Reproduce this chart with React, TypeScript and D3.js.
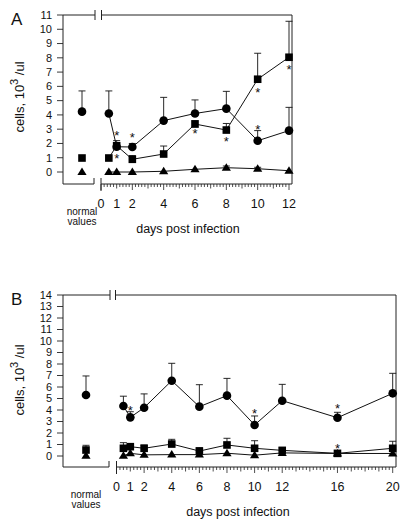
import React from "react";
import * as d3 from "d3";

// ---------- Panel A data ----------
const daysA = [0.5, 1, 2, 4, 6, 8, 10, 12];
const circleA = [4.1, 1.77, 1.75, 3.6, 4.1, 4.44, 2.19, 2.9];
const circleErrA = [5.68, 2.2, 2.0, 5.23, 5.05, 5.65, 2.9, 4.53];
const squareA = [0.98, 1.84, 0.89, 1.26, 3.36, 2.94, 6.5, 8.04];
const squareErrA = [0.98, 1.84, 1.15, 1.82, 3.6, 3.4, 8.32, 10.56];
const triangleA = [0.0, 0.0, 0.0, 0.05, 0.19, 0.3, 0.23, 0.09];
const triangleErrA = [0.0, 0.0, 0.0, 0.05, 0.19, 0.42, 0.33, 0.09];
const normalA = { circle: 4.23, circleErr: 5.68, square: 0.98, squareErr: 0.98, triangle: 0.0, triangleErr: 0.0 };
const starsA = [
  { day: 1, value: 2.8 },
  { day: 1, value: 1.17 },
  { day: 2, value: 2.61 },
  { day: 6, value: 2.94 },
  { day: 8, value: 2.36 },
  { day: 10, value: 5.8 },
  { day: 10, value: 3.22 },
  { day: 12, value: 7.38 },
];
const xTicksA = [0, 1, 2, 4, 6, 8, 10, 12];
const yTicksA = d3.range(0, 12);

// ---------- Panel B data ----------
const daysB = [0.5, 1, 2, 4, 6, 8, 10, 12, 16, 20];
const circleB = [4.35, 3.36, 4.2, 6.55, 4.29, 5.25, 2.7, 4.81, 3.33, 5.45];
const circleErrB = [5.2, 3.85, 5.4, 8.06, 6.2, 6.75, 3.48, 6.23, 3.8, 7.19];
const squareB = [0.67, 0.81, 0.67, 1.04, 0.43, 0.96, 0.67, 0.49, 0.23, 0.67];
const squareErrB = [1.16, 1.0, 0.95, 1.45, 0.72, 1.54, 1.33, 0.7, 0.23, 1.28];
const triangleB = [0.03, 0.23, 0.1, 0.12, 0.12, 0.24, 0.07, 0.27, 0.22, 0.22];
const triangleErrB = [0.03, 0.23, 0.1, 0.12, 0.12, 0.24, 0.07, 0.27, 0.22, 0.22];
const normalB = { circle: 5.3, circleErr: 6.96, square: 0.52, squareErr: 0.93, triangle: 0.03, triangleErr: 0.03 };
const starsB = [
  { day: 1, value: 4.23 },
  { day: 10, value: 4.0 },
  { day: 16, value: 4.35 },
  { day: 16, value: 0.87 },
];
const xTicksB = [0, 1, 2, 4, 6, 8, 10, 12, 16, 20];
const yTicksB = d3.range(0, 15);

const FONT = "'Liberation Sans', Arial, Helvetica, sans-serif";

type PanelProps = {
  letter: string;
  top: number;
  axisY: number;
  yMax: number;
  yZeroPx: number;
  xMax: number;
  x0: number;
  x1: number;
  right: number;
  normalX: number;
  breakX: [number, number];
  leftSegEnd: number;
  minorStep: number;
  xTicks: number[];
  yTicks: number[];
  days: number[];
  circle: number[];
  circleErr: number[];
  square: number[];
  squareErr: number[];
  triangle: number[];
  triangleErr: number[];
  normal: { circle: number; circleErr: number; square: number; squareErr: number; triangle: number; triangleErr: number };
  stars: { day: number; value: number }[];
  yLabelCenter: number;
  titleX: number;
  longTicks: number[];
};

const LEFT = 63;

function Marker({ kind, x, y }: { kind: string; x: number; y: number }) {
  if (kind === "circle") return <circle cx={x} cy={y} r={4.3} fill="#000" />;
  if (kind === "square") return <rect x={x - 3.8} y={y - 3.8} width={7.6} height={7.6} fill="#000" />;
  const h = 7.5;
  const w = 4.6;
  return <path d={`M${x},${y - h * 0.6} L${x + w},${y + h * 0.4} L${x - w},${y + h * 0.4} Z`} fill="#000" />;
}

function ErrBar({ x, y, yTop }: { x: number; y: number; yTop: number }) {
  if (y - yTop < 1) return null;
  return (
    <g stroke="#111" strokeWidth={0.9}>
      <line x1={x} x2={x} y1={y} y2={yTop} />
      <line x1={x - 3.5} x2={x + 3.5} y1={yTop} y2={yTop} />
    </g>
  );
}

function Panel(p: PanelProps) {
  const y = d3.scaleLinear().domain([0, p.yMax]).range([p.yZeroPx, p.top]);
  const x = d3.scaleLinear().domain([0, p.xMax]).range([p.x0, p.x1]);
  const line = d3
    .line<[number, number]>()
    .x((d) => x(d[0]))
    .y((d) => y(d[1]));

  const series = [
    { kind: "circle", v: p.circle, e: p.circleErr, nv: p.normal.circle, ne: p.normal.circleErr },
    { kind: "square", v: p.square, e: p.squareErr, nv: p.normal.square, ne: p.normal.squareErr },
    { kind: "triangle", v: p.triangle, e: p.triangleErr, nv: p.normal.triangle, ne: p.normal.triangleErr },
  ];

  const minor = d3.range(0, p.xMax + 1e-6, p.minorStep);
  const stroke = "#222";

  return (
    <g fontFamily={FONT}>
      <text x={11} y={p.top + 10} fontSize={17} fill="#111">
        {p.letter}
      </text>
      <text
        transform={`translate(24,${p.yLabelCenter}) rotate(-90)`}
        textAnchor="middle"
        fontSize={13}
        fill="#111"
      >
        cells,  10
        <tspan dy={-6} fontSize={11}>3</tspan>
        <tspan dy={6}> /ul</tspan>
      </text>
      <g stroke={stroke} strokeWidth={1} fill="none">
        <line x1={LEFT} x2={LEFT} y1={p.top} y2={p.axisY} />
        <line x1={LEFT} x2={p.breakX[0]} y1={p.top} y2={p.top} />
        <line x1={p.breakX[1]} x2={p.right} y1={p.top} y2={p.top} />
        <line x1={p.breakX[0]} x2={p.breakX[0]} y1={p.top - 5} y2={p.top + 5} />
        <line x1={p.breakX[1]} x2={p.breakX[1]} y1={p.top - 5} y2={p.top + 5} />
        <line x1={p.right} x2={p.right} y1={p.top} y2={p.axisY} />
        <line x1={LEFT} x2={p.leftSegEnd} y1={p.axisY} y2={p.axisY} />
        <line x1={p.leftSegEnd} x2={p.leftSegEnd} y1={p.axisY} y2={p.axisY - 6} />
        <line x1={p.x0} x2={p.right} y1={p.axisY} y2={p.axisY} />
        <line x1={p.x0} x2={p.x0} y1={p.axisY - 6} y2={p.axisY + 7} />
      </g>
      {p.yTicks.map((t) => (
        <g key={"y" + t}>
          <line x1={LEFT - 6} x2={LEFT} y1={y(t)} y2={y(t)} stroke={stroke} strokeWidth={0.9} />
          <text x={52} y={y(t) + 3.8} textAnchor="end" fontSize={11} fill="#111">
            {t}
          </text>
        </g>
      ))}
      {minor.map((t, i) => {
        const isInt = Math.abs(t - Math.round(t)) < 1e-6;
        const isLong = isInt && p.longTicks.includes(Math.round(t));
        const len = isLong ? 6 : isInt ? 4.5 : 3;
        return (
          <line
            key={"m" + i}
            x1={x(t)}
            x2={x(t)}
            y1={p.axisY}
            y2={p.axisY + len}
            stroke={stroke}
            strokeWidth={0.8}
          />
        );
      })}
      {p.xTicks.map((t) => (
        <text key={"xt" + t} x={x(t)} y={p.axisY + 24} textAnchor="middle" fontSize={12.5} fill="#111">
          {t}
        </text>
      ))}
      <text x={p.normalX} y={p.axisY + 31} textAnchor="middle" fontSize={10} fill="#111">
        normal
      </text>
      <text x={p.normalX} y={p.axisY + 41} textAnchor="middle" fontSize={10} fill="#111">
        values
      </text>
      <text x={p.titleX} y={p.axisY + 49} textAnchor="middle" fontSize={12.5} fill="#111">
        days post infection
      </text>
      {series.map((s) => (
        <g key={s.kind}>
          <path
            d={line(p.days.map((d, i) => [d, s.v[i]] as [number, number])) || ""}
            fill="none"
            stroke="#111"
            strokeWidth={1}
          />
          {p.days.map((d, i) => (
            <ErrBar key={"e" + i} x={x(d)} y={y(s.v[i])} yTop={y(s.e[i])} />
          ))}
          <ErrBar x={p.normalX} y={y(s.nv)} yTop={y(s.ne)} />
          {p.days.map((d, i) => (
            <Marker key={"m" + i} kind={s.kind} x={x(d)} y={y(s.v[i])} />
          ))}
          <Marker kind={s.kind} x={p.normalX} y={y(s.nv)} />
        </g>
      ))}
      {p.stars.map((s, i) => (
        <text key={"s" + i} x={x(s.day)} y={y(s.value) + 7.5} textAnchor="middle" fontSize={13} fill="#111">
          *
        </text>
      ))}
    </g>
  );
}

export default function App() {
  return (
    <svg width={408} height={527} style={{ position: "absolute", left: 0, top: 0, background: "#fff" }}>
      <rect width={408} height={527} fill="#fff" />
      <Panel
        letter="A"
        top={15}
        axisY={184}
        yMax={11}
        yZeroPx={172}
        xMax={12}
        x0={101}
        x1={289}
        right={292}
        normalX={82}
        breakX={[95, 101.5]}
        leftSegEnd={94}
        minorStep={0.2}
        xTicks={xTicksA}
        yTicks={yTicksA}
        days={daysA}
        circle={circleA}
        circleErr={circleErrA}
        square={squareA}
        squareErr={squareErrA}
        triangle={triangleA}
        triangleErr={triangleErrA}
        normal={normalA}
        stars={starsA}
        yLabelCenter={97}
        titleX={188}
        longTicks={[0, 2, 4, 6, 8, 10, 12]}
      />
      <Panel
        letter="B"
        top={295}
        axisY={467}
        yMax={14}
        yZeroPx={456}
        xMax={20}
        x0={116.5}
        x1={392.7}
        right={396}
        normalX={86}
        breakX={[110, 115.5]}
        leftSegEnd={109}
        minorStep={0.25}
        xTicks={xTicksB}
        yTicks={yTicksB}
        days={daysB}
        circle={circleB}
        circleErr={circleErrB}
        square={squareB}
        squareErr={squareErrB}
        triangle={triangleB}
        triangleErr={triangleErrB}
        normal={normalB}
        stars={starsB}
        yLabelCenter={380}
        titleX={238}
        longTicks={[0, 2, 4, 6, 8, 10, 12, 16, 20]}
      />
    </svg>
  );
}
